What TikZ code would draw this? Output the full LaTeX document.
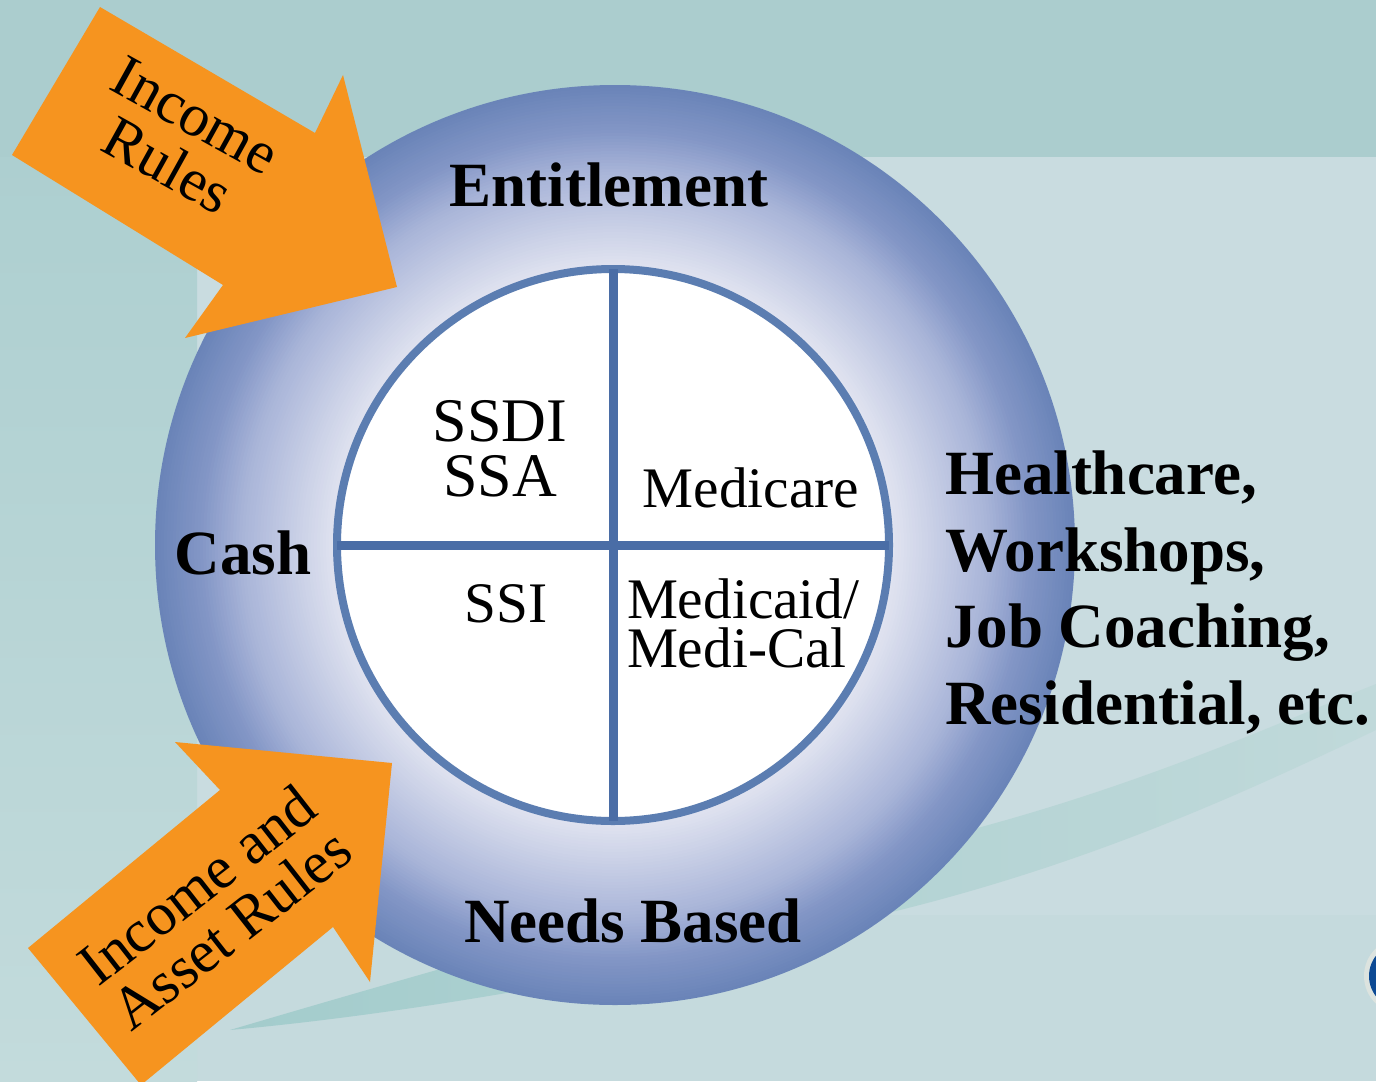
\documentclass[tikz,border=0pt]{standalone}
\usepackage{fontspec}
\setmainfont{Liberation Serif}
\definecolor{bgtop}{HTML}{ABCDCE}
\definecolor{bglight}{HTML}{C9DCE0}
\definecolor{bgbottom}{HTML}{C5DADD}
\definecolor{bgleftA}{HTML}{ADCFD0}
\definecolor{bgleftB}{HTML}{C3DBDC}
\definecolor{swooshA}{HTML}{A3CCCC}
\definecolor{swooshB}{HTML}{C0D9DA}
\definecolor{ringI}{HTML}{E0E3F0}
\definecolor{ringB}{HTML}{A8B4D8}
\definecolor{ringD}{HTML}{8396C6}
\definecolor{ringC}{HTML}{6A84B8}
\definecolor{rimblue}{HTML}{5B7DB1}
\definecolor{crossblue}{HTML}{4A6DA6}
\definecolor{arroworange}{HTML}{F6941F}
\definecolor{logoblue}{HTML}{0D4A94}
\definecolor{halo}{HTML}{DCE3DF}
\newcommand\bigbold{\fontsize{47.25}{57.75}\selectfont\bfseries}
\newcommand\quadbig{\fontsize{46.5}{41}\selectfont}
\newcommand\quadmid{\fontsize{43}{37.5}\selectfont}
\newcommand\arrowtxtA{\fontsize{45}{43}\selectfont}
\newcommand\arrowtxtB{\fontsize{45}{42}\selectfont}
\begin{document}
\begin{tikzpicture}[x=0.75pt,y=-0.75pt,
  lbl/.style={inner sep=0pt, outer sep=0pt, text=black},
  arrowshape/.style={fill=arroworange},
  crossline/.style={draw=crossblue, line width=6.75pt},
]
\useasboundingbox (0,0) rectangle (1376,1081);
\clip (0,0) rectangle (1376,1081);
% background
\fill[bgtop] (0,0) rectangle (1376,157);
\fill[bglight] (197,157) rectangle (1376,1081);
\fill[bgbottom] (197,915) rectangle (1376,1081);
\shade[top color=bgleftA, bottom color=bgleftB] (0,157) rectangle (197,1081);
% swoosh
\shade[left color=swooshA, right color=swooshB]
  (230,1030) .. controls (450,965) and (750,880) .. (970,830)
  .. controls (1150,782) and (1280,722) .. (1376,684)
  -- (1376,730) .. controls (1250,790) and (1100,860) .. (900,910)
  .. controls (700,960) and (450,1010) .. (230,1030) -- cycle;
% logo fragment
\fill[halo] (1402,976) circle [radius=38];
\fill[logoblue] (1402,976) circle [radius=33];
% outer ring with radial gradient
\coordinate (ringc) at (615,545);
\foreach \r in {460,457,...,415}{
  \pgfmathsetmacro\p{(460-\r)/45*100}
  \fill[ringD!\p!ringC] (ringc) circle [radius=\r];
}
\foreach \r in {412,409,...,376}{
  \pgfmathsetmacro\p{(415-\r)/40*100}
  \fill[ringB!\p!ringD] (ringc) circle [radius=\r];
}
\foreach \r in {373,370,...,274}{
  \pgfmathsetmacro\p{min(100,(375-\r)/95*100)}
  \fill[ringI!\p!ringB] (ringc) circle [radius=\r];
}
% inner circle
\node[circle, draw=rimblue, fill=white, line width=6pt, minimum size=414pt, inner sep=0pt, outer sep=0pt] (core) at (613,545) {};
\draw[crossline] (core.north) -- (core.south);
\draw[crossline] (core.west) -- (core.east);
% ring labels
\node[lbl, anchor=base] (ent) at (609,206) {\bigbold Entitlement};
\node[lbl, anchor=base] (cash) at (243,574) {\bigbold Cash};
\node[lbl, anchor=base] (needs) at (633,942) {\bigbold Needs Based};
\node[lbl, anchor=base west] (r1) at (945,494) {\bigbold Healthcare,};
\node[lbl, anchor=base west] (r2) at (945,571) {\bigbold Workshops,};
\node[lbl, anchor=base west] (r3) at (945,647) {\bigbold Job Coaching,};
\node[lbl, anchor=base west] (r4) at (945,724) {\bigbold Residential, etc.};
% quadrant labels
\node[lbl, anchor=base] (ssdi) at (500,441) {\quadbig SSDI};
\node[lbl, anchor=base] (ssa) at (500,496) {\quadbig SSA};
\node[lbl, anchor=base] (medicare) at (751,507) {\quadmid Medicare};
\node[lbl, anchor=base] (ssi) at (506,622) {\quadmid SSI};
\node[lbl, anchor=base west] (medicaid) at (627,618) {\quadmid Medicaid/};
\node[lbl, anchor=base west] (medical) at (627,667) {\quadmid Medi-Cal};
% arrows
\fill[arrowshape] (100,7) -- (315,133) -- (343,75) -- (397,287) -- (185,338) -- (223,285) -- (12,155) -- cycle;
\fill[arrowshape] (28,948) -- (220,790) -- (175,742) -- (392,763) -- (370,982) -- (333,927) -- (141,1085) -- cycle;
\node[lbl, align=center, font=\arrowtxtA, rotate=-29] (upperrules) at (181.7,140.7) {Income\\Rules};
\node[lbl, align=center, font=\arrowtxtB, rotate=38] (lowerrules) at (214,907) {Income and\\Asset Rules};
\end{tikzpicture}
\end{document}
